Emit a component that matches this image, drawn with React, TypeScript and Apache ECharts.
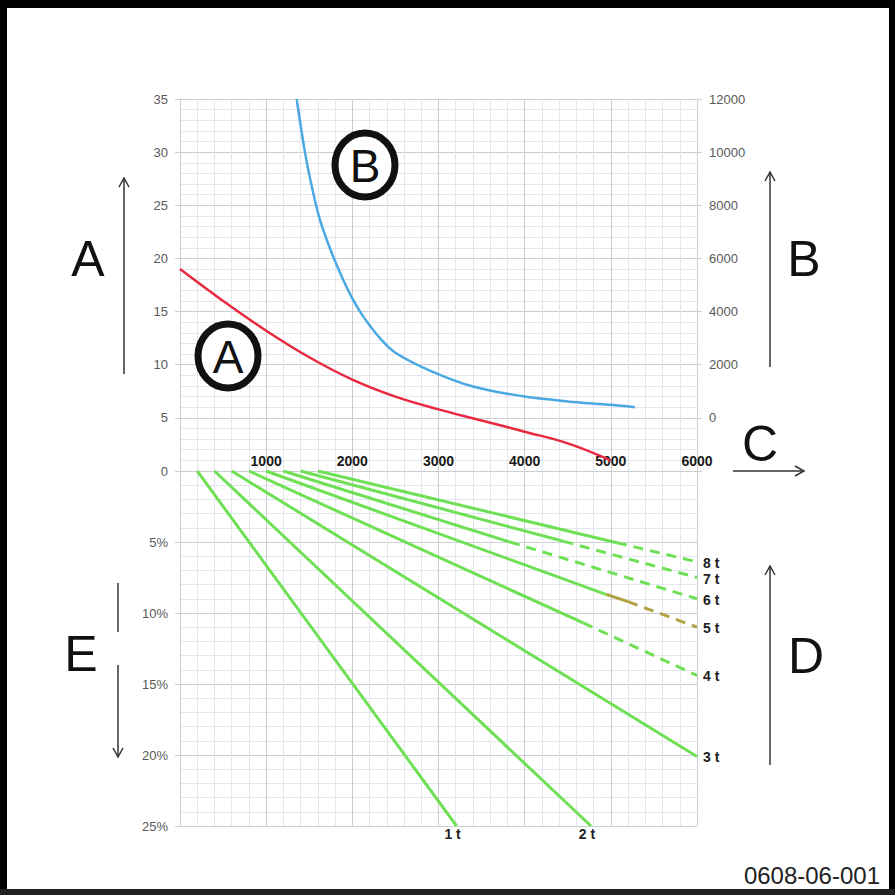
import React, { useEffect, useRef } from 'react';
import * as echarts from 'echarts';

// Curve A (left axis, 0-35)
const redX = [0, 500, 1000, 1500, 2000, 2500, 3000, 3500, 4000, 4500, 5000];
const redY = [19, 16.0, 13.2, 10.7, 8.6, 7.0, 5.8, 4.75, 3.7, 2.6, 1.0];

// Curve B (right axis, 0-12000)
const blueX = [1354, 1450, 1530, 1620, 1750, 1900, 2000, 2130, 2320, 2500, 2900, 3400, 4000, 4500, 5000, 5280];
const blueY = [12000, 10000, 8700, 7500, 6300, 5150, 4500, 3800, 3000, 2450, 1780, 1180, 800, 620, 490, 400];

// Load lines (bottom panel, % axis)
const loadLabels = ['1 t', '2 t', '3 t', '4 t', '5 t', '6 t', '7 t', '8 t'];
const greenStartX = [200, 400, 600, 800, 1000, 1200, 1400, 1600];
const greenEndX = [3210, 4770, 6000, 6000, 6000, 6000, 6000, 6000];
const greenEndPct = [25, 25, 20.1, 14.4, 11.0, 9.0, 7.5, 6.4];
const dashFromX: (number | null)[] = [null, null, null, 4680, 5200, 3830, 4450, 5070];
const dashFromPct: (number | null)[] = [null, null, null, 10.7, 9.2, 5.0, 4.95, 5.05];
const oliveFromX = 4950;
const oliveFromPct = 8.7;

const xTicks = { min: 0, max: 6000, interval: 1000 };
const leftTicks = { min: 0, max: 35, interval: 5 };
const rightTicks = { min: -2000, max: 12000, interval: 2000 };
const pctTicks = { min: 0, max: 25, interval: 5 };

const FONT = 'Liberation Sans, Arial, sans-serif';
const GREEN = '#6fe055';
const OLIVE = '#b0a244';
const RED = '#e8293f';
const BLUE = '#4aa9e2';
const MAJOR = '#cbcfd4';
const MINOR = '#e3e6ea';
const LABEL = '#595959';

export default function App() {
  const ref = useRef<HTMLDivElement>(null);
  useEffect(() => {
    const chart = echarts.init(ref.current!, null, { renderer: 'svg' });

    const splitLine = { show: true, lineStyle: { color: MAJOR, width: 1 } };
    const minorSplitLine = { show: true, lineStyle: { color: MINOR, width: 1 } };
    const axisTick = { show: true, length: 5, lineStyle: { color: MAJOR } };
    const axisLine = { show: true, lineStyle: { color: MAJOR } };
    const tickLabel = { color: LABEL, fontSize: 13, fontFamily: FONT, margin: 12 };

    const greenSeries: any[] = [];
    loadLabels.forEach((name, i) => {
      const base = { type: 'line', xAxisIndex: 1, yAxisIndex: 2, symbol: 'none', silent: true, z: 3 };
      const start = [greenStartX[i], 0];
      const end = [greenEndX[i], greenEndPct[i]];
      const below = i < 2;
      const endLabel = {
        show: true,
        formatter: name,
        fontFamily: FONT,
        fontWeight: 'bold',
        fontSize: 14,
        color: '#222',
        distance: below ? 0 : 6,
        align: below ? 'center' : 'left',
        verticalAlign: below ? 'top' : 'middle',
        offset: below ? [-4, 1] : [0, 1],
      };
      const bx = dashFromX[i];
      const by = dashFromPct[i];
      if (bx == null || by == null) {
        greenSeries.push({ ...base, name, data: [start, end], lineStyle: { color: GREEN, width: 3 }, endLabel });
      } else if (i === 4) {
        const olive = [oliveFromX, oliveFromPct];
        greenSeries.push({ ...base, name: name + ' a', data: [start, olive], lineStyle: { color: GREEN, width: 3 } });
        greenSeries.push({ ...base, name: name + ' b', data: [olive, [bx, by]], lineStyle: { color: OLIVE, width: 3 } });
        greenSeries.push({
          ...base, name, data: [[bx, by], end],
          lineStyle: { color: OLIVE, width: 3, type: [10, 7] }, endLabel,
        });
      } else {
        greenSeries.push({ ...base, name: name + ' a', data: [start, [bx, by]], lineStyle: { color: GREEN, width: 3 } });
        greenSeries.push({
          ...base, name, data: [[bx, by], end],
          lineStyle: { color: GREEN, width: 3, type: [10, 7] }, endLabel,
        });
      }
    });

    const bigLetter = (text: string, x: number, y: number) => ({
      type: 'text', x, y,
      style: { text, fontSize: 50, fontFamily: FONT, fill: '#111', align: 'center', verticalAlign: 'middle' },
    });
    const arrowStyle = { stroke: '#333', lineWidth: 1.5, fill: 'none' };
    const vArrowUp = (x: number, y1: number, y2: number) => [
      { type: 'line', shape: { x1: x, y1, x2: x, y2 }, style: arrowStyle },
      { type: 'polyline', shape: { points: [[x - 5, y2 + 9], [x, y2], [x + 5, y2 + 9]] }, style: arrowStyle },
    ];
    const circled = (text: string, cx: number, cy: number) => [
      { type: 'ellipse', shape: { cx, cy, rx: 30, ry: 32 }, style: { fill: '#fff', stroke: '#111', lineWidth: 7 }, z: 10 },
      {
        type: 'text', x: cx, y: cy + 1, z: 11,
        style: { text, fontSize: 46, fontFamily: FONT, fill: '#111', align: 'center', verticalAlign: 'middle' },
      },
    ];

    const option: any = {
      animation: false,
      backgroundColor: '#fff',
      grid: [
        { left: 180, top: 99, width: 517, height: 372 },
        { left: 180, top: 471, width: 517, height: 355 },
      ],
      xAxis: [
        {
          gridIndex: 0, type: 'value', ...xTicks, position: 'bottom',
          axisLine, axisTick: { show: false },
          axisLabel: {
            inside: true, margin: 3, color: '#1a1a1a', fontSize: 14, fontWeight: 'bold', fontFamily: FONT,
            formatter: (v: number) => (v === 0 ? '' : String(v)),
          },
          splitLine, minorTick: { show: false, splitNumber: 5 }, minorSplitLine,
        },
        {
          gridIndex: 1, type: 'value', ...xTicks, position: 'top',
          axisLine: { show: false }, axisTick: { show: false }, axisLabel: { show: false },
          splitLine, minorTick: { show: false, splitNumber: 5 }, minorSplitLine,
        },
      ],
      yAxis: [
        {
          gridIndex: 0, type: 'value', ...leftTicks, position: 'left',
          axisLine, axisTick, axisLabel: { ...tickLabel, formatter: (v: number) => String(v) },
          splitLine, minorTick: { show: false, splitNumber: 5 }, minorSplitLine,
        },
        {
          gridIndex: 0, type: 'value', ...rightTicks, position: 'right',
          axisLine, axisTick,
          axisLabel: { ...tickLabel, formatter: (v: number) => (v < 0 ? '' : String(v)) },
          splitLine: { show: false },
        },
        {
          gridIndex: 1, type: 'value', ...pctTicks, position: 'left', inverse: true,
          axisLine, axisTick,
          axisLabel: { ...tickLabel, formatter: (v: number) => (v === 0 ? '' : v + '%') },
          splitLine, minorTick: { show: false, splitNumber: 5 }, minorSplitLine,
        },
      ],
      series: [
        {
          type: 'line', name: 'A', xAxisIndex: 0, yAxisIndex: 0, symbol: 'none', smooth: 0.4,
          silent: true, data: redX.map((x, i) => [x, redY[i]]), lineStyle: { color: RED, width: 2.5 }, z: 3,
        },
        {
          type: 'line', name: 'B', xAxisIndex: 0, yAxisIndex: 1, symbol: 'none', smooth: 0.3,
          silent: true, data: blueX.map((x, i) => [x, blueY[i]]), lineStyle: { color: BLUE, width: 2.5 }, z: 3,
        },
        ...greenSeries,
      ],
      graphic: [
        { type: 'rect', shape: { x: 0, y: 0, width: 895, height: 8 }, style: { fill: '#000' }, z: 20 },
        { type: 'rect', shape: { x: 0, y: 0, width: 7, height: 895 }, style: { fill: '#000' }, z: 20 },
        { type: 'rect', shape: { x: 889, y: 0, width: 6, height: 895 }, style: { fill: '#000' }, z: 20 },
        { type: 'rect', shape: { x: 0, y: 889, width: 895, height: 6 }, style: { fill: '#222' }, z: 20 },
        bigLetter('A', 88, 259),
        bigLetter('B', 804, 259),
        bigLetter('C', 760, 444),
        bigLetter('D', 806, 656),
        bigLetter('E', 81, 654),
        ...vArrowUp(124, 374, 178),
        ...vArrowUp(770, 367, 172),
        ...vArrowUp(770, 765, 566),
        { type: 'line', shape: { x1: 733, y1: 471, x2: 804, y2: 471 }, style: arrowStyle },
        { type: 'polyline', shape: { points: [[795, 466], [804, 471], [795, 476]] }, style: arrowStyle },
        { type: 'line', shape: { x1: 118, y1: 583, x2: 118, y2: 632 }, style: arrowStyle },
        { type: 'line', shape: { x1: 118, y1: 665, x2: 118, y2: 757 }, style: arrowStyle },
        { type: 'polyline', shape: { points: [[113, 748], [118, 757], [123, 748]] }, style: arrowStyle },
        ...circled('B', 365, 165),
        ...circled('A', 228, 356),
        {
          type: 'text', x: 880, y: 875,
          style: { text: '0608-06-001', fontSize: 24, fontFamily: FONT, fill: '#222', align: 'right', verticalAlign: 'middle' },
        },
      ],
    };
    chart.setOption(option);
    return () => chart.dispose();
  }, []);
  return (
    <div
      ref={ref}
      style={{ position: 'fixed', left: 0, top: 0, width: 895, height: 895, background: '#fff' }}
    />
  );
}
